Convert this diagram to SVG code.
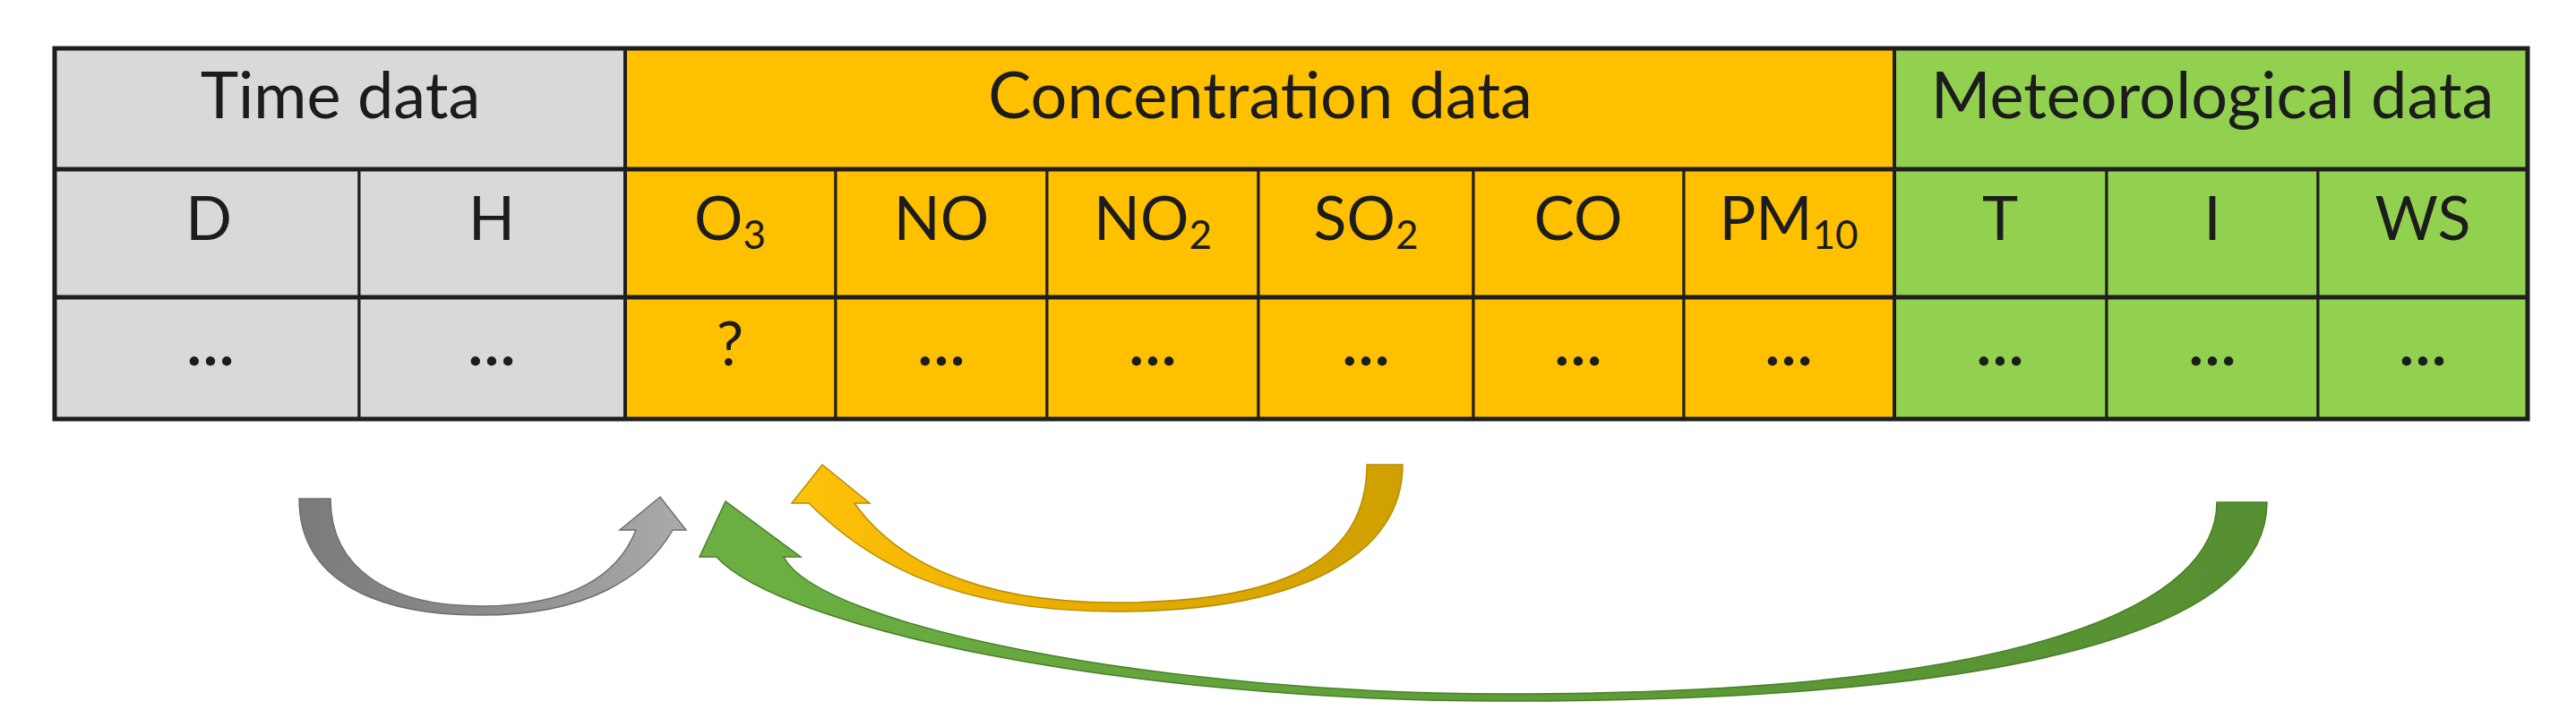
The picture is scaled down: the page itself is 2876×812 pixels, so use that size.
<svg xmlns="http://www.w3.org/2000/svg" width="2876" height="812" viewBox="0 0 2876 812">
<defs>
<style>
.t{font-family:Lato,"Open Sans","Liberation Sans",sans-serif;font-size:68px;fill:#1c1c1c;text-anchor:middle}
.h{font-size:72px}
.sub{font-size:44px}
.dots{font-weight:bold}
.gr{fill:#D9D9D9}
.or{fill:#FFC000}
.gn{fill:#92D050}
.cell{stroke:#1e1e1e;stroke-width:3}
.thick{stroke:#1e1e1e;stroke-width:5;fill:none}
.mid{stroke:#1e1e1e;stroke-width:4;fill:none}
</style>
<linearGradient id="gGray" gradientUnits="userSpaceOnUse" x1="333" y1="0" x2="766" y2="0">
<stop offset="0" stop-color="#7b7b7b"/><stop offset="0.5" stop-color="#8c8c8c"/><stop offset="1" stop-color="#ababab"/>
</linearGradient>
<linearGradient id="gYel" gradientUnits="userSpaceOnUse" x1="884" y1="0" x2="1566" y2="0">
<stop offset="0" stop-color="#FFC20A"/><stop offset="0.45" stop-color="#E8AE00"/><stop offset="1" stop-color="#CFA000"/>
</linearGradient>
<linearGradient id="gGrn" gradientUnits="userSpaceOnUse" x1="781" y1="0" x2="2531" y2="0">
<stop offset="0" stop-color="#6CB043"/><stop offset="0.5" stop-color="#5E9E38"/><stop offset="1" stop-color="#568F31"/>
</linearGradient>
</defs>
<rect x="0" y="0" width="2876" height="812" fill="#ffffff"/>

<g id="time-data"><rect class="gr cell" x="61" y="54" width="637" height="135"/><text class="t h" x="380" y="132">Time data</text></g>
<g id="concentration-data"><rect class="or cell" x="698" y="54" width="1417" height="135"/><text class="t h" x="1407" y="132">Concentration data</text></g>
<g id="meteorological-data"><rect class="gn cell" x="2115" y="54" width="707" height="135"/><text class="t h" x="2470" y="132">Meteorological data</text></g>

<g id="col-D"><rect class="gr cell" x="61" y="189" width="340" height="143"/><text class="t" x="233" y="268">D</text></g>
<g id="col-H"><rect class="gr cell" x="401" y="189" width="297" height="143"/><text class="t" x="549" y="268">H</text></g>
<g id="col-O3"><rect class="or cell" x="698" y="189" width="235" height="143"/><text class="t" x="815" y="268">O<tspan class="sub" dy="10">3</tspan></text></g>
<g id="col-NO"><rect class="or cell" x="933" y="189" width="236" height="143"/><text class="t" x="1051" y="268">NO</text></g>
<g id="col-NO2"><rect class="or cell" x="1169" y="189" width="236" height="143"/><text class="t" x="1287" y="268">NO<tspan class="sub" dy="10">2</tspan></text></g>
<g id="col-SO2"><rect class="or cell" x="1405" y="189" width="240" height="143"/><text class="t" x="1525" y="268">SO<tspan class="sub" dy="10">2</tspan></text></g>
<g id="col-CO"><rect class="or cell" x="1645" y="189" width="235" height="143"/><text class="t" x="1762" y="268">CO</text></g>
<g id="col-PM10"><rect class="or cell" x="1880" y="189" width="235" height="143"/><text class="t" x="1997" y="268">PM<tspan class="sub" dy="10">10</tspan></text></g>
<g id="col-T"><rect class="gn cell" x="2115" y="189" width="237" height="143"/><text class="t" x="2233" y="268">T</text></g>
<g id="col-I"><rect class="gn cell" x="2352" y="189" width="236" height="143"/><text class="t" x="2470" y="268">I</text></g>
<g id="col-WS"><rect class="gn cell" x="2588" y="189" width="234" height="143"/><text class="t" x="2705" y="268">WS</text></g>

<g id="val-D"><rect class="gr cell" x="61" y="332" width="340" height="136"/><text class="t dots" x="235" y="408">…</text></g>
<g id="val-H"><rect class="gr cell" x="401" y="332" width="297" height="136"/><text class="t dots" x="549" y="408">…</text></g>
<g id="val-O3"><rect class="or cell" x="698" y="332" width="235" height="136"/><text class="t" x="815" y="408">?</text></g>
<g id="val-NO"><rect class="or cell" x="933" y="332" width="236" height="136"/><text class="t dots" x="1051" y="408">…</text></g>
<g id="val-NO2"><rect class="or cell" x="1169" y="332" width="236" height="136"/><text class="t dots" x="1287" y="408">…</text></g>
<g id="val-SO2"><rect class="or cell" x="1405" y="332" width="240" height="136"/><text class="t dots" x="1525" y="408">…</text></g>
<g id="val-CO"><rect class="or cell" x="1645" y="332" width="235" height="136"/><text class="t dots" x="1762" y="408">…</text></g>
<g id="val-PM10"><rect class="or cell" x="1880" y="332" width="235" height="136"/><text class="t dots" x="1997" y="408">…</text></g>
<g id="val-T"><rect class="gn cell" x="2115" y="332" width="237" height="136"/><text class="t dots" x="2233" y="408">…</text></g>
<g id="val-I"><rect class="gn cell" x="2352" y="332" width="236" height="136"/><text class="t dots" x="2470" y="408">…</text></g>
<g id="val-WS"><rect class="gn cell" x="2588" y="332" width="234" height="136"/><text class="t dots" x="2705" y="408">…</text></g>

<g id="grid">
<line class="thick" x1="61" y1="189" x2="2822" y2="189"/>
<line class="thick" x1="61" y1="332" x2="2822" y2="332"/>
<line class="mid" x1="698" y1="54" x2="698" y2="468"/>
<line class="mid" x1="2115" y1="54" x2="2115" y2="468"/>
<rect class="thick" x="61" y="54" width="2761" height="414"/>
</g>

<g id="connectors">
<path id="arrow-time" fill="url(#gGray)" stroke="#6f6f6f" stroke-width="1.5" d="M334,557 L369,557 C369,637 437,677 537,677 C637,677 690,643 710,592 L692,592 L737,555 L766,592 L751,592 C721,644 657,687 537,687 C417,687 334,647 334,557 Z"/>
<path id="arrow-conc" fill="url(#gYel)" stroke="#B88E00" stroke-width="1.5" d="M1526,519 L1566,519 C1566,619 1455,683 1245,683 C1060,683 966,625 903,562 L884,562 L918,519 L971,562 L954,562 C995,620 1080,673 1245,673 C1445,673 1526,619 1526,519 Z"/>
<path id="arrow-met" fill="url(#gGrn)" stroke="#4A7F2A" stroke-width="1.5" d="M2475,561 L2531,561 C2531,681 2330,783 1680,783 C1250,783 870,700 800,622 L781,622 L810,560 L894,622 L875,622 C915,700 1300,775 1680,775 C2280,775 2475,671 2475,561 Z"/>
</g>
</svg>
